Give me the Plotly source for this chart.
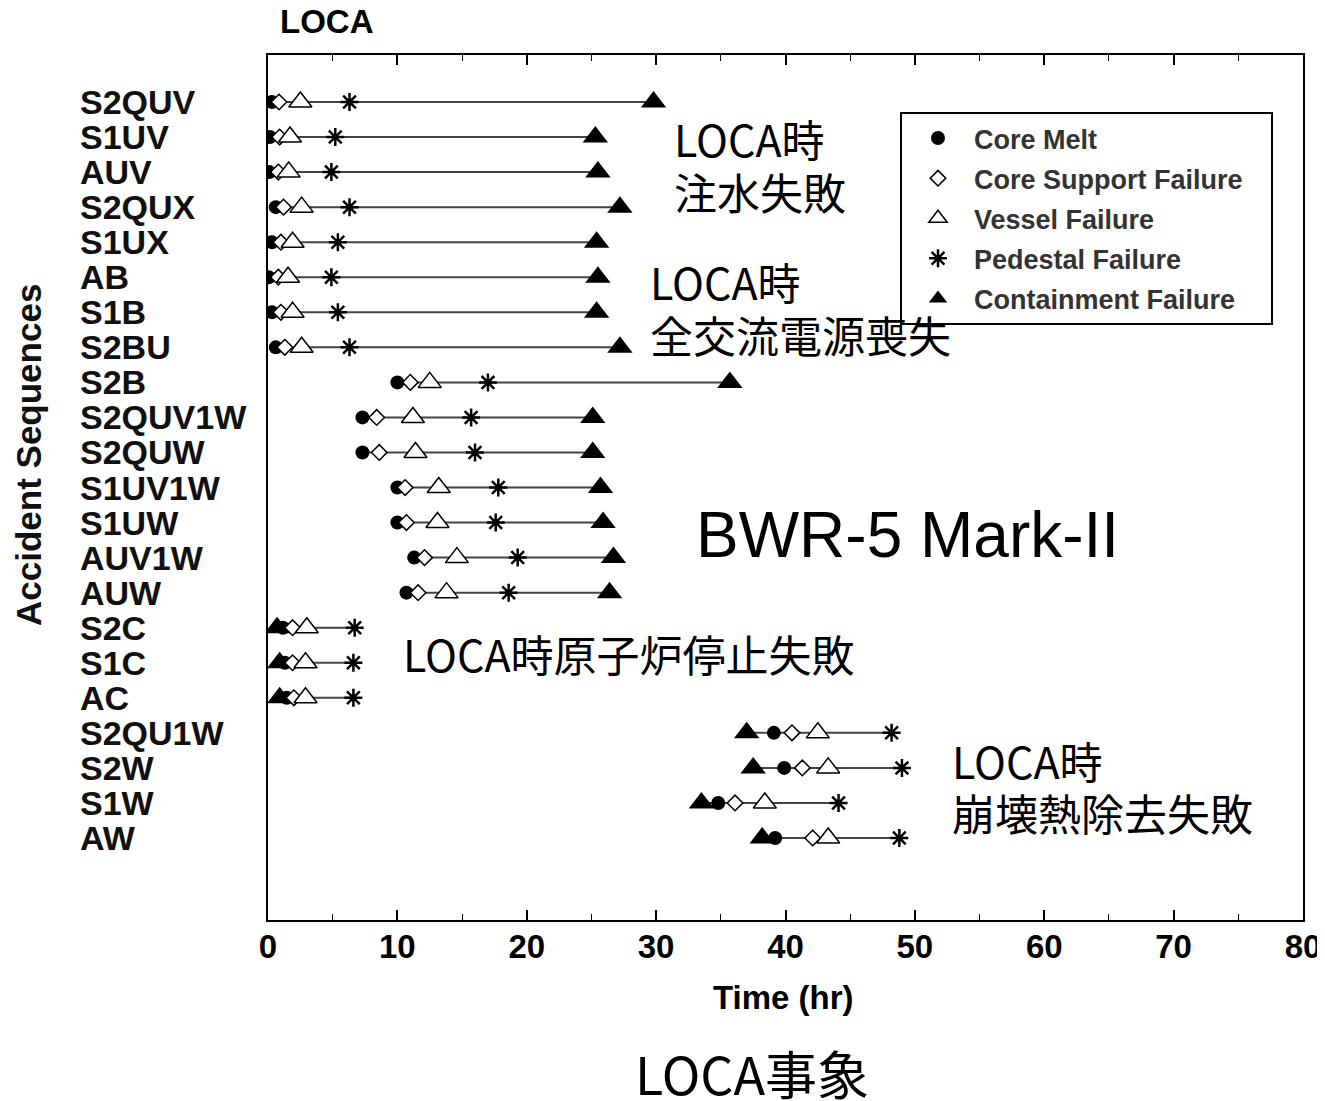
import plotly.graph_objects as go

sequences = ["S2QUV", "S1UV", "AUV", "S2QUX", "S1UX", "AB", "S1B", "S2BU", "S2B",
             "S2QUV1W", "S2QUW", "S1UV1W", "S1UW", "AUV1W", "AUW", "S2C", "S1C", "AC",
             "S2QU1W", "S2W", "S1W", "AW"]

core_melt = [0.3, 0.15, 0.1, 0.6, 0.3, 0.05, 0.3, 0.6, 10.0, 7.3, 7.3, 10.0, 10.0, 11.3, 10.7,
             1.15, 1.3, 1.45, 39.1, 39.9, 34.8, 39.2]
core_support = [0.85, 0.9, 0.8, 1.2, 1.0, 0.8, 1.0, 1.3, 11.0, 8.4, 8.6, 10.6, 10.7, 12.1, 11.6,
                1.9, 1.9, 2.0, 40.5, 41.3, 36.1, 42.1]
vessel = [2.5, 1.7, 1.6, 2.6, 1.9, 1.55, 1.9, 2.6, 12.5, 11.2, 11.4, 13.2, 13.1, 14.6, 13.8,
          3.0, 2.9, 2.9, 42.5, 43.3, 38.4, 43.3]
pedestal = [6.3, 5.2, 4.9, 6.3, 5.4, 4.9, 5.4, 6.3, 17.0, 15.7, 16.0, 17.8, 17.6, 19.3, 18.6,
            6.7, 6.6, 6.6, 48.2, 49.0, 44.1, 48.8]
containment = [29.8, 25.3, 25.5, 27.2, 25.4, 25.5, 25.4, 27.2, 35.7, 25.1, 25.1, 25.7, 25.9, 26.7, 26.4,
               0.7, 0.9, 0.9, 37.0, 37.5, 33.5, 38.2]

x_ticks = [0, 10, 20, 30, 40, 50, 60, 70, 80]

rows = list(range(len(sequences)))

BOLD = "Liberation Sans, Arial, sans-serif"
CJK = "Noto Sans CJK JP, sans-serif"
PAD = "\u00a0\u00a0\u00a0"

fig = go.Figure()

# connecting lines
lx, ly = [], []
for i in rows:
    vals = [core_melt[i], core_support[i], vessel[i], pedestal[i], containment[i]]
    lx += [min(vals), max(vals), None]
    ly += [i, i, None]
fig.add_trace(go.Scatter(x=lx, y=ly, mode="lines", line=dict(color="#444444", width=2),
                         showlegend=False, hoverinfo="skip"))

fig.add_trace(go.Scatter(x=containment, y=rows, mode="markers", name="<b>Containment Failure</b>" + PAD,
                         marker=dict(symbol="triangle-up", size=22, color="black"),
                         legendgroup="e", legendrank=5))
fig.add_trace(go.Scatter(x=core_melt, y=rows, mode="markers", name="<b>Core Melt</b>",
                         marker=dict(symbol="circle", size=14, color="black"),
                         legendgroup="a", legendrank=1))
fig.add_trace(go.Scatter(x=core_support, y=rows, mode="markers", name="<b>Core Support Failure</b>" + PAD,
                         marker=dict(symbol="diamond", size=12, color="white",
                                     line=dict(color="black", width=1.5)),
                         legendgroup="b", legendrank=2))
fig.add_trace(go.Scatter(x=vessel, y=rows, mode="markers", name="<b>Vessel Failure</b>",
                         marker=dict(symbol="triangle-up", size=20, color="white",
                                     line=dict(color="black", width=1.5)),
                         legendgroup="c", legendrank=3))
fig.add_trace(go.Scatter(x=pedestal, y=rows, mode="markers", name="<b>Pedestal Failure</b>",
                         marker=dict(symbol="asterisk-open", size=15, color="black",
                                     line=dict(color="black", width=2.5)),
                         legendgroup="d", legendrank=4))

# helper trace so the top axis (with minor ticks) is drawn
fig.add_trace(go.Scatter(x=[None], y=[None], xaxis="x2", yaxis="y", mode="markers",
                         showlegend=False, hoverinfo="skip"))

annotations = []
for i, s in enumerate(sequences):
    annotations.append(dict(x=(78 - 268) / 1035, y=i, xref="paper", yref="y", text=f"<b>{s}</b>",
                            showarrow=False, xanchor="left", yanchor="middle",
                            font=dict(family=BOLD, size=34, color="#111111")))

def note(text, xpix, ypix, size, family, anchor="left"):
    annotations.append(dict(x=(xpix - 268) / 1035, y=1 - (ypix - 55) / 865, xref="paper", yref="paper",
                            text=text, showarrow=False, xanchor=anchor, yanchor="middle",
                            font=dict(family=family, size=size, color="black")))

note("<b>LOCA</b>", 278, 22, 33, BOLD)
note("<b>Time (hr)</b>", 783, 997, 33, BOLD, "center")
note("LOCA時", 672, 138, 43, CJK)
note("注水失敗", 672, 191, 43, CJK)
note("LOCA時", 648, 281, 43, CJK)
note("全交流電源喪失", 648, 334, 43, CJK)
note("BWR-5 Mark-II", 694, 535, 64, "Liberation Sans, Arial, sans-serif")
note("LOCA時原子炉停止失敗", 401, 653, 43, CJK)
note("LOCA時", 950, 760, 43, CJK)
note("崩壊熱除去失敗", 950, 812, 43, CJK)
note("LOCA事象", 752, 1072, 52, CJK, "center")

annotations.append(dict(x=(28 - 268) / 1035, y=1 - (455 - 55) / 865, xref="paper", yref="paper",
                        text="<b>Accident Sequences</b>", textangle=-90, showarrow=False,
                        xanchor="center", yanchor="middle",
                        font=dict(family=BOLD, size=35, color="#111111")))

fig.update_layout(
    width=1317, height=1093,
    margin=dict(l=260, r=22, t=47, b=181, autoexpand=False),
    plot_bgcolor="white", paper_bgcolor="white",
    annotations=annotations,
    showlegend=True,
    legend=dict(x=(900 - 268) / 1035, y=1 - (112 - 55) / 865, xanchor="left", yanchor="top",
                bordercolor="black", borderwidth=2, bgcolor="white",
                font=dict(family=BOLD, size=27, color="#333333"),
                tracegroupgap=2, itemwidth=62),
    xaxis2=dict(range=[0, 80], overlaying="x", side="top", anchor="y",
                tickvals=x_ticks, showticklabels=False, automargin=False,
                ticks="inside", ticklen=10, tickwidth=1.5, tickcolor="black",
                minor=dict(dtick=5, ticks="inside", ticklen=6, tickwidth=1.2, tickcolor="black"),
                showline=False, showgrid=False, zeroline=False),
)

fig.layout.xaxis.update(range=[0, 80], tickvals=x_ticks, ticktext=[f"<b>{t}</b>" for t in x_ticks],
                        ticks="inside", ticklen=10, tickwidth=1.5, tickcolor="black",
                        minor=dict(dtick=5, ticks="inside", ticklen=6, tickwidth=1.2, tickcolor="black"),
                        showline=True, linecolor="black", linewidth=2, mirror=True,
                        showgrid=False, zeroline=False, ticklabelstandoff=-4,
                        ticklabeloverflow="allow", automargin=False,
                        tickfont=dict(family=BOLD, size=33, color="black"))
fig.update_yaxes(range=[23.34, -1.341], showticklabels=False, ticks="", automargin=False,
                 showline=True, linecolor="black", linewidth=2, mirror=True,
                 showgrid=False, zeroline=False)

fig.write_html("out.html")
